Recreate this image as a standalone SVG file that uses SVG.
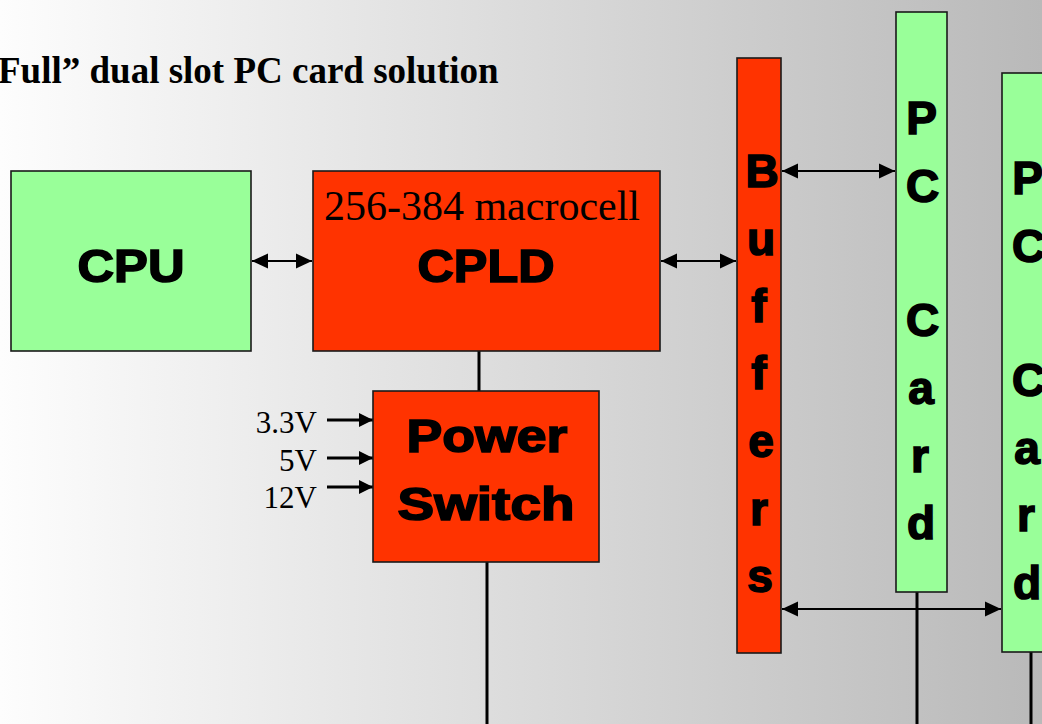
<svg xmlns="http://www.w3.org/2000/svg" width="1042" height="724" viewBox="0 0 1042 724">
<defs>
<linearGradient id="bg" x1="0" y1="0" x2="1" y2="0">
<stop offset="0" stop-color="#FDFDFD"/>
<stop offset="1" stop-color="#B9B9B9"/>
</linearGradient>
<marker id="ah" markerUnits="userSpaceOnUse" markerWidth="16" markerHeight="16" viewBox="0 0 16 16" refX="16" refY="8" orient="auto-start-reverse">
<path d="M0,0.5 L16,8 L0,15.5 z" fill="#000"/>
</marker>
<marker id="ahv" markerUnits="userSpaceOnUse" markerWidth="14" markerHeight="16" viewBox="0 0 14 16" refX="14" refY="8" orient="auto">
<path d="M0,1 L14,8 L0,15 z" fill="#000"/>
</marker>
<style>
.green{fill:#99FF99;stroke:#1a1a1a;stroke-width:1.6}
.red{fill:#FF3300;stroke:#1a1a1a;stroke-width:1.6}
.big{font-family:"Liberation Sans",Arial,sans-serif;font-weight:bold;font-size:46px;fill:#000;stroke:#000;stroke-width:1.6;text-anchor:middle}
.serif{font-family:"Liberation Serif","Times New Roman",serif;fill:#000}
.bi{stroke:#000;stroke-width:2;fill:none;marker-start:url(#ah);marker-end:url(#ah)}
.pw{stroke:#000;stroke-width:3.2;fill:none;marker-end:url(#ahv)}
.wire{stroke:#000;stroke-width:3;fill:none}
</style>
</defs>
<rect x="0" y="0" width="1042" height="724" fill="url(#bg)"/>
<text class="serif" x="-2" y="83" font-size="37" font-weight="bold">Full” dual slot PC card solution</text>

<g id="connectors">
<line class="bi" x1="252" y1="261" x2="312" y2="261"/>
<line class="bi" x1="661" y1="261" x2="736" y2="261"/>
<line class="bi" x1="782" y1="171" x2="895" y2="171"/>
<line class="bi" x1="782" y1="609" x2="1001" y2="609"/>
<line class="wire" x1="479" y1="351" x2="479" y2="391"/>
<line class="wire" x1="487" y1="562" x2="487" y2="724"/>
<line class="wire" x1="917" y1="592" x2="917" y2="724"/>
<line class="wire" x1="1031" y1="652" x2="1031" y2="724"/>
<line class="pw" x1="327" y1="420" x2="373" y2="420"/>
<line class="pw" x1="327" y1="458" x2="373" y2="458"/>
<line class="pw" x1="327" y1="487" x2="373" y2="487"/>
</g>

<g id="cpu">
<rect class="green" x="11" y="171" width="240" height="180"/>
<text class="big" x="131" y="282" textLength="107" lengthAdjust="spacingAndGlyphs">CPU</text>
</g>

<g id="cpld">
<rect class="red" x="313" y="171" width="347" height="180"/>
<text class="serif" x="482" y="220" font-size="42" text-anchor="middle">256-384 macrocell</text>
<text class="big" x="486" y="282" textLength="137" lengthAdjust="spacingAndGlyphs">CPLD</text>
</g>

<g id="power-switch">
<rect class="red" x="373" y="391" width="226" height="171"/>
<text class="big" x="487" y="452" textLength="161" lengthAdjust="spacingAndGlyphs">Power</text>
<text class="big" x="486" y="520" textLength="177" lengthAdjust="spacingAndGlyphs">Switch</text>
</g>

<g id="voltages">
<text class="serif" x="317" y="433" font-size="31" text-anchor="end">3.3V</text>
<text class="serif" x="317" y="471" font-size="31" text-anchor="end">5V</text>
<text class="serif" x="317" y="508" font-size="31" text-anchor="end">12V</text>
</g>

<g id="buffers">
<rect class="red" x="737" y="58" width="44" height="595"/>
<text class="big" x="762" y="187">B</text>
<text class="big" x="761" y="255">u</text>
<text class="big" x="759" y="322">f</text>
<text class="big" x="759" y="389">f</text>
<text class="big" x="761" y="457">e</text>
<text class="big" x="759" y="525">r</text>
<text class="big" x="760" y="592">s</text>
</g>

<g id="pc-card-1">
<rect class="green" x="896" y="12" width="51" height="580"/>
<text class="big" x="921.5" y="134">P</text>
<text class="big" x="922.5" y="202">C</text>
<text class="big" x="922.5" y="336">C</text>
<text class="big" x="921" y="404">a</text>
<text class="big" x="920" y="472">r</text>
<text class="big" x="921" y="539">d</text>
</g>

<g id="pc-card-2">
<rect class="green" x="1002" y="73" width="51" height="579"/>
<text class="big" x="1027.5" y="194">P</text>
<text class="big" x="1028.5" y="262">C</text>
<text class="big" x="1028.5" y="396">C</text>
<text class="big" x="1027" y="464">a</text>
<text class="big" x="1026" y="531">r</text>
<text class="big" x="1027" y="599">d</text>
</g>
</svg>
